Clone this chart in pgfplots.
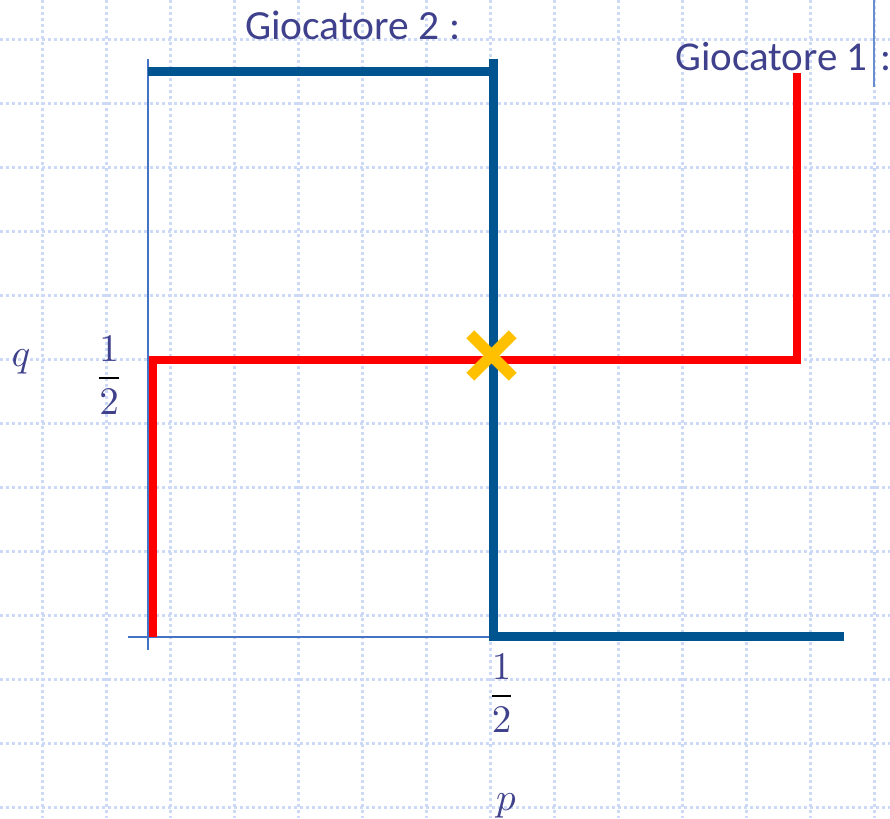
\documentclass[border=0pt]{standalone}
\usepackage{pgfplots}
\pgfplotsset{compat=1.18}
\usepackage{graphicx}
\usepackage{fontspec}
\setmainfont{Carlito}
\definecolor{gridc}{RGB}{204,217,247}
\definecolor{bluel}{RGB}{0,85,145}
\definecolor{axc}{RGB}{68,114,196}
\definecolor{txt}{RGB}{63,65,140}
\definecolor{gold}{RGB}{255,192,0}
\begin{document}
\begin{tikzpicture}
\begin{axis}[
  name=ax,
  x=1pt, y=1pt,
  xmin=0, xmax=890, ymin=0, ymax=818,
  y dir=reverse,
  scale only axis,
  axis line style={draw=none},
  clip=false,
  xtick={42.3,106.3,170.3,234.3,298.3,362.3,426.3,490.3,554.3,618.3,682.3,746.3,810.3,874.3},
  ytick={39.3,103.3,167.3,231.3,295.3,359.3,423.3,487.3,551.3,615.3,679.3,743.3,807.3},
  xticklabels={}, yticklabels={},
  major tick length=0pt,
  xmajorgrids, ymajorgrids,
  major grid style={gridc, line width=2.5pt, dash pattern=on 3pt off 3pt},
]
% axis lines
\addplot[axc, line width=2pt] coordinates {(148,59) (148,650)};
\addplot[axc, line width=2pt] coordinates {(128,636.7) (493,636.7)};
% Giocatore 2 (blue)
\addplot[bluel, line width=9pt] coordinates {(148,71.3) (498,71.3)};
\addplot[bluel, line width=8.7pt, line join=miter] coordinates {(493.4,59) (493.4,636.7) (844,636.7)};
% Giocatore 1 (red)
\addplot[red, line width=8pt, line join=miter] coordinates {(152.5,636.7) (152.5,359.5) (797.3,359.5) (797.3,73.3)};
% equilibrium
\addplot[gold, only marks, mark=x, mark size=30pt, mark options={line width=11pt, line cap=butt}] coordinates {(491.5,355.5)};
% text cursor
\addplot[axc!80, line width=1.5pt] coordinates {(874,0) (874,87)};
% labels
\node[anchor=base west, inner sep=0pt, text=txt, font=\fontsize{41.5}{45}\selectfont] at (axis cs:245,40) {Giocatore 2 :};
\node[anchor=base west, inner sep=0pt, text=txt, font=\fontsize{41}{45}\selectfont] at (axis cs:675,70.7) {Giocatore 1};
\node[anchor=base west, inner sep=0pt, text=txt, font=\fontsize{41}{45}\selectfont] at (axis cs:880,70.7) {:};
\node[anchor=base, inner sep=0pt, text=txt] at (axis cs:21,366) {\scalebox{3.9}{$q$}};
\node[anchor=base, inner sep=0pt, text=txt] at (axis cs:506,810) {\scalebox{3.9}{$p$}};
\node[anchor=base, inner sep=0pt] at (axis cs:109,387.5) {\scalebox{3.9}{$\displaystyle\frac{\color{txt}1}{\color{txt}2}$}};
\node[anchor=base, inner sep=0pt] at (axis cs:501.7,705.5) {\scalebox{3.9}{$\displaystyle\frac{\color{txt}1}{\color{txt}2}$}};
\end{axis}
\pgfresetboundingbox
\useasboundingbox (ax.south west) rectangle (ax.north east);
\end{tikzpicture}
\end{document}
